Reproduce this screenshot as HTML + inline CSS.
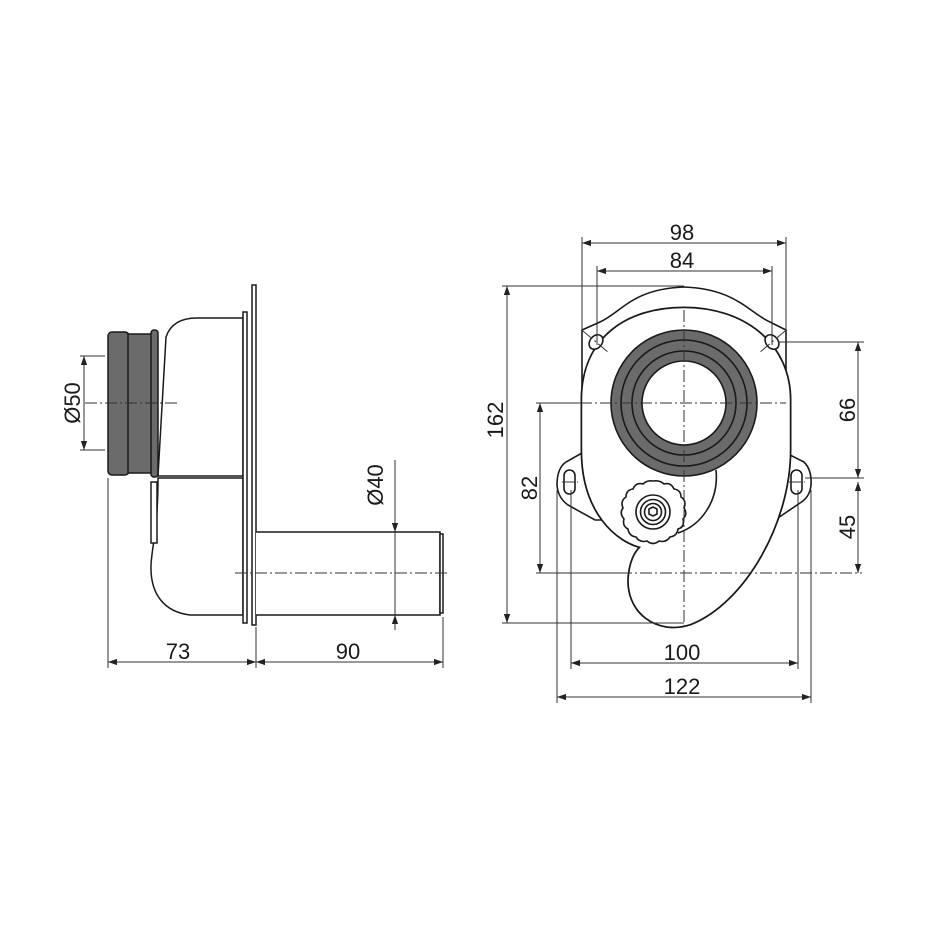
<!DOCTYPE html>
<html><head><meta charset="utf-8"><style>
html,body{margin:0;padding:0;background:#fff;}
svg{display:block;}
text{font-family:"Liberation Sans","DejaVu Sans",sans-serif;font-size:22px;fill:#1a1a1a;}
</style></head><body>
<svg width="925" height="925" viewBox="0 0 925 925" xmlns="http://www.w3.org/2000/svg">
<defs>
<marker id="a" viewBox="0 0 10 10" refX="10" refY="5" markerWidth="9" markerHeight="9" orient="auto-start-reverse" markerUnits="userSpaceOnUse">
<path d="M0,1.5 L10,5 L0,8.5 Z" fill="#222"/></marker>
</defs>
<rect width="925" height="925" fill="#fff"/>

<!-- LEFT VIEW -->
<g stroke="#1a1a1a" stroke-width="1.5" fill="#fff">
<!-- body upper -->
<path d="M166 337 C170 325 180 318 197 318 L243 318 L243 476 L158 476 Z"/>
<!-- body lower -->
<path d="M158 478 L243 478 L243 615 L190 615 C165 612 150 595 151 565 C152 545 158 530 158 478 Z"/>
<!-- clip -->
<rect x="151" y="482" width="6" height="61"/>
<!-- plates -->
<rect x="243" y="312" width="4" height="311"/>
<rect x="252" y="285" width="4" height="340"/>
<!-- pipe -->
<path d="M256 532 L440 532 L440 615 L256 615"/>
<rect x="440" y="534" width="3" height="79"/>
</g>
<!-- gasket -->
<g stroke="#1a1a1a" stroke-width="1.5" fill="#6b6b6b">
<rect x="108" y="332" width="21" height="143" rx="4"/>
<rect x="128" y="334" width="24" height="139"/>
<rect x="151" y="330" width="7" height="147" rx="3"/>
</g>
<!-- centerlines left -->
<g stroke="#333" stroke-width="1" stroke-dasharray="12,3,2,3" fill="none">
<line x1="85" y1="403" x2="180" y2="403"/>
<line x1="235" y1="573" x2="448" y2="573"/>
</g>
<!-- dims left -->
<g stroke="#333" stroke-width="1" fill="none">
<line x1="80" y1="356" x2="105" y2="356"/>
<line x1="80" y1="450" x2="105" y2="450"/>
<line x1="84" y1="356" x2="84" y2="450" marker-start="url(#a)" marker-end="url(#a)"/>
<line x1="395" y1="460" x2="395" y2="532" marker-end="url(#a)"/>
<line x1="395" y1="630" x2="395" y2="615" marker-end="url(#a)"/>
<line x1="395" y1="532" x2="395" y2="615"/>
<line x1="108" y1="478" x2="108" y2="668"/>
<line x1="256" y1="627" x2="256" y2="668"/>
<line x1="443" y1="617" x2="443" y2="668"/>
<line x1="108" y1="662" x2="256" y2="662" marker-start="url(#a)" marker-end="url(#a)"/>
<line x1="256" y1="662" x2="443" y2="662" marker-start="url(#a)" marker-end="url(#a)"/>
</g>
<text x="80" y="403" text-anchor="middle" transform="rotate(-90 80 403)">Ø50</text>
<text x="383" y="485" text-anchor="middle" transform="rotate(-90 383 485)">Ø40</text>
<text x="178" y="659" text-anchor="middle">73</text>
<text x="348" y="659" text-anchor="middle">90</text>

<!-- RIGHT VIEW -->
<g stroke="#1a1a1a" stroke-width="1.6" fill="#fff">
<!-- plate -->
<path d="M582 330 L600 322 C622 312 632 289 684 287 C736 289 748 312 770 322 L786 330 L786 453 L804 462 Q812 470 811 485 Q810 497 800 503 L775 520 L595 520 L568 505 Q558 498 557 485 Q557 468 566 462 L582 453 Z"/>
<!-- body double line -->
<path d="M645 545 C618 540 585 510 585 450 L585 400 C585 340 628 311 684 311 C742 311 787 345 787 400 L787 450 C787 522 742 600 690 621 C658 632 628 610 632 575 C634 558 640 550 648 545 Z" stroke-width="9" stroke="#1a1a1a"/>
<path d="M645 545 C618 540 585 510 585 450 L585 400 C585 340 628 311 684 311 C742 311 787 345 787 400 L787 450 C787 522 742 600 690 621 C658 632 628 610 632 575 C634 558 640 550 648 545 Z" stroke-width="5.5" stroke="#fff"/>
<!-- arc behind knob -->
<path d="M716 470 C719 500 702 525 678 533" fill="none"/>
<!-- holes -->
<ellipse cx="596" cy="342" rx="6" ry="8" transform="rotate(40 596 342)"/>
<ellipse cx="772" cy="342" rx="6" ry="8" transform="rotate(-40 772 342)"/>
<rect x="564" y="470" width="11" height="24" rx="5.5"/>
<rect x="791" y="470" width="11" height="24" rx="5.5"/>
</g>
<!-- gasket ring -->
<g stroke="#1a1a1a" stroke-width="1.6">
<circle cx="684" cy="403" r="73" fill="#6b6b6b"/>
<circle cx="684" cy="403" r="63" fill="none"/>
<circle cx="684" cy="403" r="52" fill="none"/>
<circle cx="684" cy="403" r="42" fill="#fff"/>
</g>
<!-- knob -->
<g stroke="#1a1a1a" stroke-width="1.6" fill="#fff">
<path d="M653 481 Q660 480 664 484 Q671 482 674 489 Q681 490 681 497 Q687 501 684 508 Q688 514 683 519 Q685 527 678 529 Q677 536 670 537 Q666 543 659 541 Q653 546 647 541 Q640 543 636 537 Q629 536 628 529 Q622 526 624 519 Q619 513 623 508 Q620 501 626 497 Q626 490 633 489 Q636 482 643 484 Q647 480 653 481 Z"/>
<circle cx="653" cy="512" r="17"/>
<circle cx="653" cy="512" r="12.5"/>
<circle cx="653" cy="512" r="8.5"/>
<path d="M649 509 L653 507 L657 509 L657 514 L653 516 L649 514 Z"/>
</g>
<!-- centerlines right -->
<g stroke="#333" stroke-width="1" stroke-dasharray="12,3,2,3" fill="none">
<line x1="684" y1="310" x2="684" y2="627"/>
<line x1="540" y1="403" x2="786" y2="403"/>
<line x1="620" y1="573" x2="862" y2="573"/>
<line x1="583" y1="331" x2="609" y2="353"/>
<line x1="785" y1="331" x2="759" y2="353"/>
<line x1="562" y1="482" x2="578" y2="482"/>
<line x1="789" y1="482" x2="805" y2="482"/>
</g>
<!-- dims right -->
<g stroke="#333" stroke-width="1" fill="none">
<line x1="582" y1="237" x2="582" y2="330"/>
<line x1="786" y1="237" x2="786" y2="330"/>
<line x1="597" y1="266" x2="597" y2="345"/>
<line x1="772" y1="266" x2="772" y2="345"/>
<line x1="582" y1="243" x2="786" y2="243" marker-start="url(#a)" marker-end="url(#a)"/>
<line x1="597" y1="271" x2="772" y2="271" marker-start="url(#a)" marker-end="url(#a)"/>
<line x1="502" y1="286" x2="684" y2="286"/>
<line x1="502" y1="623" x2="684" y2="623"/>
<line x1="507" y1="286" x2="507" y2="623" marker-start="url(#a)" marker-end="url(#a)"/>
<line x1="536" y1="403" x2="580" y2="403"/>
<line x1="536" y1="573" x2="620" y2="573"/>
<line x1="540" y1="403" x2="540" y2="573" marker-start="url(#a)" marker-end="url(#a)"/>
<line x1="778" y1="342" x2="864" y2="342"/>
<line x1="805" y1="478" x2="864" y2="478"/>
<line x1="858" y1="342" x2="858" y2="478" marker-start="url(#a)" marker-end="url(#a)"/>
<line x1="858" y1="482" x2="858" y2="573" marker-start="url(#a)" marker-end="url(#a)"/>
<line x1="571" y1="490" x2="571" y2="669"/>
<line x1="798" y1="490" x2="798" y2="669"/>
<line x1="557" y1="490" x2="557" y2="703"/>
<line x1="811" y1="490" x2="811" y2="703"/>
<line x1="571" y1="663" x2="798" y2="663" marker-start="url(#a)" marker-end="url(#a)"/>
<line x1="557" y1="697" x2="811" y2="697" marker-start="url(#a)" marker-end="url(#a)"/>
</g>
<text x="682" y="240" text-anchor="middle">98</text>
<text x="682" y="268" text-anchor="middle">84</text>
<text x="682" y="660" text-anchor="middle">100</text>
<text x="682" y="694" text-anchor="middle">122</text>
<text x="503" y="420" text-anchor="middle" transform="rotate(-90 503 420)">162</text>
<text x="537" y="488" text-anchor="middle" transform="rotate(-90 537 488)">82</text>
<text x="855" y="410" text-anchor="middle" transform="rotate(-90 855 410)">66</text>
<text x="855" y="527" text-anchor="middle" transform="rotate(-90 855 527)">45</text>
</svg>
</body></html>
